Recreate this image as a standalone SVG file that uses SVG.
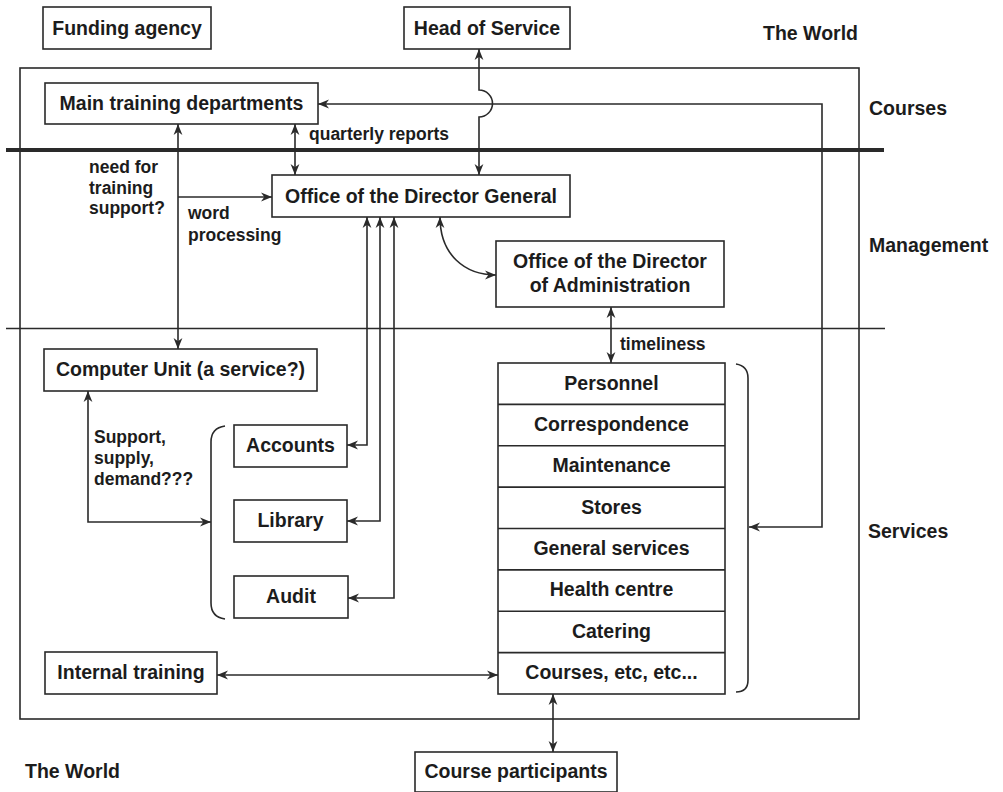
<svg xmlns="http://www.w3.org/2000/svg" width="1003" height="792" viewBox="0 0 1003 792">
  <style>
    .box { fill: #fff; stroke: #2a2a2a; stroke-width: 1.6; }
    .frame { fill: none; stroke: #2a2a2a; stroke-width: 1.6; }
    .t { font-family: "Liberation Sans", Arial, sans-serif; font-weight: bold; font-size: 19.5px; fill: #1c1c1c; }
    .c { text-anchor: middle; }
    .lbl { font-family: "Liberation Sans", Arial, sans-serif; font-weight: bold; font-size: 17.5px; fill: #1c1c1c; }
    .w { fill: none; stroke: #2a2a2a; stroke-width: 1.6; }
    .both { marker-start: url(#arr); marker-end: url(#arr); }
    .end { marker-end: url(#arr); }
  </style>
  <defs>
    <marker id="arr" viewBox="0 0 10 10" refX="10" refY="5" markerWidth="11" markerHeight="11" markerUnits="userSpaceOnUse" orient="auto-start-reverse">
      <path d="M0,1 L10,5 L0,9 L3,5 z" fill="#2a2a2a"/>
    </marker>
  </defs>
  <rect width="1003" height="792" fill="#fff"/>

  <!-- zone frame and dividers -->
  <g id="zones">
    <rect class="frame" x="20" y="68" width="839" height="651"/>
    <line x1="6" y1="150" x2="884" y2="150" stroke="#2a2a2a" stroke-width="4"/>
    <line x1="6" y1="328.5" x2="885" y2="328.5" stroke="#2a2a2a" stroke-width="1.6"/>
    <text class="t" x="763" y="40">The World</text>
    <text class="t" x="869" y="115">Courses</text>
    <text class="t" x="869" y="252">Management</text>
    <text class="t" x="868" y="538">Services</text>
    <text class="t" x="25" y="778">The World</text>
  </g>

  <!-- connectors -->
  <g id="connectors">
    <path class="w both" d="M479,49 L479,90 A13.5,13.5 0 0 1 479,117 L479,175"/>
    <path class="w both" d="M318,104 L822,104 L822,527 L749,527"/>
    <path class="w both" d="M295,124 L295,175"/>
    <path class="w both" d="M178,124 L178,349"/>
    <path class="w end" d="M178,197 L272,197"/>
    <path class="w both" d="M440,217 C440,255 465,275 496,275"/>
    <path class="w both" d="M611,307 L611,363"/>
    <path class="w both" d="M367,217 L367,445 L347,445"/>
    <path class="w both" d="M380,217 L380,521 L347,521"/>
    <path class="w both" d="M394,217 L394,598 L348,598"/>
    <path class="w both" d="M88,391 L88,522 L211,522"/>
    <path class="w both" d="M217,675 L498,675"/>
    <path class="w both" d="M553,694 L553,752"/>
    <text class="lbl" x="309" y="140">quarterly reports</text>
    <text class="lbl" x="89" y="173">need for</text>
    <text class="lbl" x="89" y="194">training</text>
    <text class="lbl" x="89" y="214">support?</text>
    <text class="lbl" x="188" y="219">word</text>
    <text class="lbl" x="188" y="241">processing</text>
    <text class="lbl" x="620" y="350">timeliness</text>
    <text class="lbl" x="94" y="443">Support,</text>
    <text class="lbl" x="94" y="464">supply,</text>
    <text class="lbl" x="94" y="485">demand???</text>
  </g>

  <g id="funding-agency">
    <rect class="box" x="43" y="7" width="168" height="42"/>
    <text class="t c" x="127" y="35">Funding agency</text>
  </g>
  <g id="head-of-service">
    <rect class="box" x="404" y="7" width="166" height="42"/>
    <text class="t c" x="487" y="35">Head of Service</text>
  </g>
  <g id="main-training">
    <rect class="box" x="45" y="83" width="273" height="41"/>
    <text class="t c" x="181.5" y="110">Main training departments</text>
  </g>
  <g id="director-general">
    <rect class="box" x="272" y="175" width="298" height="42"/>
    <text class="t c" x="421" y="203">Office of the Director General</text>
  </g>
  <g id="director-admin">
    <rect class="box" x="496" y="241" width="228" height="66"/>
    <text class="t c" x="610" y="268">Office of the Director</text>
    <text class="t c" x="610" y="292">of Administration</text>
  </g>
  <g id="computer-unit">
    <rect class="box" x="44" y="349" width="273" height="42"/>
    <text class="t c" x="180.5" y="376">Computer Unit (a service?)</text>
  </g>
  <g id="accounts">
    <rect class="box" x="234" y="425" width="113" height="42"/>
    <text class="t c" x="290.5" y="452">Accounts</text>
  </g>
  <g id="library">
    <rect class="box" x="234" y="500" width="113" height="42"/>
    <text class="t c" x="290.5" y="527">Library</text>
  </g>
  <g id="audit">
    <rect class="box" x="234" y="576" width="114" height="42"/>
    <text class="t c" x="291" y="603">Audit</text>
  </g>
  <g id="group-brace">
    <path class="frame" d="M225,426 Q211,428 211,442 L211,603 Q211,617 225,619"/>
  </g>
  <g id="internal-training">
    <rect class="box" x="45" y="652" width="172" height="42"/>
    <text class="t c" x="131" y="679">Internal training</text>
  </g>
  <g id="services-stack">
    <rect class="box" x="498" y="363" width="227" height="331"/>
    <path class="frame" d="M498,404.4 H725 M498,445.8 H725 M498,487.1 H725 M498,528.5 H725 M498,569.9 H725 M498,611.3 H725 M498,652.6 H725"/>
    <g class="t c">
      <text x="611.5" y="390">Personnel</text>
      <text x="611.5" y="431">Correspondence</text>
      <text x="611.5" y="472">Maintenance</text>
      <text x="611.5" y="514">Stores</text>
      <text x="611.5" y="555">General services</text>
      <text x="611.5" y="596">Health centre</text>
      <text x="611.5" y="638">Catering</text>
      <text x="611.5" y="679">Courses, etc, etc...</text>
    </g>
    <path class="frame" d="M736,364 Q748,366 748,378 L748,680 Q748,692 736,692"/>
  </g>
  <g id="course-participants">
    <rect class="box" x="415" y="752" width="202" height="40"/>
    <text class="t c" x="516" y="778">Course participants</text>
  </g>
</svg>
